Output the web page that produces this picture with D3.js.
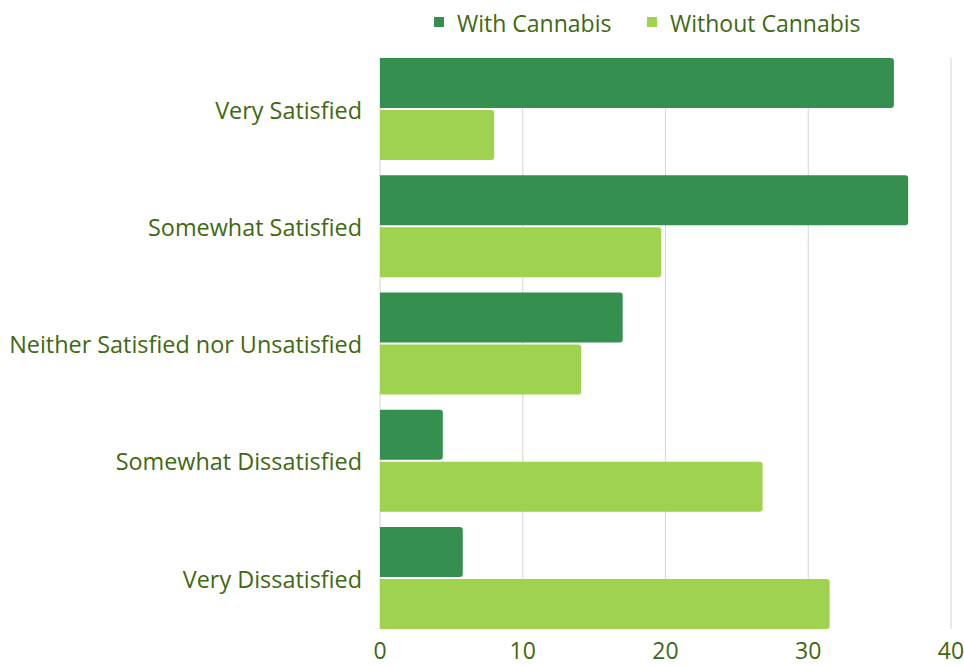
<!DOCTYPE html>
<html>
<head>
<meta charset="utf-8">
<script src="https://cdn.jsdelivr.net/npm/d3@7"></script>
<style>
  body { margin: 0; background: #ffffff; }
  svg { display: block; }
</style>
</head>
<body>
<div id="chart"></div>
<script>
const width = 964
const height = 666

const textColor = "#3f6812"
const gridColor = "#dcdcd4"
const darkGreen = "#358f4e"
const lightGreen = "#9ed24f"

const categories = [
  "Very Satisfied",
  "Somewhat Satisfied",
  "Neither Satisfied nor Unsatisfied",
  "Somewhat Dissatisfied",
  "Very Dissatisfied"
];
const seriesNames = ["With Cannabis", "Without Cannabis"];
const withCannabis = [36, 37, 17, 4.4, 5.8];
const withoutCannabis = [8, 19.7, 14.1, 26.8, 31.5];
const xTicks = [0, 10, 20, 30, 40];

const colors = [darkGreen, lightGreen];
const series = [withCannabis, withoutCannabis];

const margin = { top: 58, right: 13, bottom: 37, left: 380 };
const fontFamily = "'Open Sans', 'Noto Sans', sans-serif";

const svg = d3.select("#chart")
  .append("svg")
  .attr("width", width)
  .attr("height", height)
  .style("font-family", fontFamily);

const x = d3.scaleLinear()
  .domain([0, 40])
  .range([margin.left, width - margin.right]);

const y = d3.scaleBand()
  .domain(categories)
  .range([50.4, 636.6])
  .paddingInner(0.13)
  .paddingOuter(0.065);

const ySub = d3.scaleBand()
  .domain(seriesNames)
  .range([0, y.bandwidth()])
  .paddingInner(0.04);

const plotTop = y(categories[0]);
const plotBottom = y(categories[categories.length - 1]) + y.bandwidth();

// gridlines
svg.append("g")
  .selectAll("line")
  .data(xTicks)
  .join("line")
  .attr("x1", d => x(d)).attr("x2", d => x(d))
  .attr("y1", plotTop).attr("y2", plotBottom)
  .attr("stroke", gridColor)
  .attr("stroke-width", 1.2);

// bar path with rounded right end only
function barPath(x0, y0, w, h, r) {
  r = Math.min(r, w, h / 2);
  return `M${x0},${y0}H${x0 + w - r}Q${x0 + w},${y0} ${x0 + w},${y0 + r}` +
    `V${y0 + h - r}Q${x0 + w},${y0 + h} ${x0 + w - r},${y0 + h}H${x0}Z`;
}

const rows = categories.map((c, i) => ({
  cat: c,
  values: seriesNames.map((s, j) => ({ name: s, value: series[j][i], color: colors[j] }))
}));

const groups = svg.append("g")
  .selectAll("g")
  .data(rows)
  .join("g")
  .attr("transform", d => `translate(0,${y(d.cat)})`);

groups.selectAll("path")
  .data(d => d.values)
  .join("path")
  .attr("d", d => barPath(x(0), ySub(d.name), x(d.value) - x(0), ySub.bandwidth(), 3))
  .attr("fill", d => d.color);

// category labels
svg.append("g")
  .selectAll("text")
  .data(categories)
  .join("text")
  .attr("x", margin.left - 18)
  .attr("y", d => y(d) + y.bandwidth() / 2 + 1.5)
  .attr("dy", "0.35em")
  .attr("text-anchor", "end")
  .attr("fill", textColor)
  .style("font-size", "23.4px")
  .text(d => d);

// x tick labels
svg.append("g")
  .selectAll("text")
  .data(xTicks)
  .join("text")
  .attr("x", d => x(d))
  .attr("y", 651)
  .attr("dy", "0.35em")
  .attr("text-anchor", "middle")
  .attr("fill", textColor)
  .style("font-size", "23px")
  .text(d => d);

// legend
const legendPos = [434, 647];
const legend = svg.append("g")
  .selectAll("g")
  .data(seriesNames)
  .join("g")
  .attr("transform", (d, i) => `translate(${legendPos[i]},22)`);

legend.append("rect")
  .attr("x", 0).attr("y", -5)
  .attr("width", 10).attr("height", 10)
  .attr("fill", (d, i) => colors[i]);

legend.append("text")
  .attr("x", 23)
  .attr("y", 2)
  .attr("dy", "0.35em")
  .attr("fill", textColor)
  .style("font-size", "23px")
  .text(d => d);
</script>
</body>
</html>
